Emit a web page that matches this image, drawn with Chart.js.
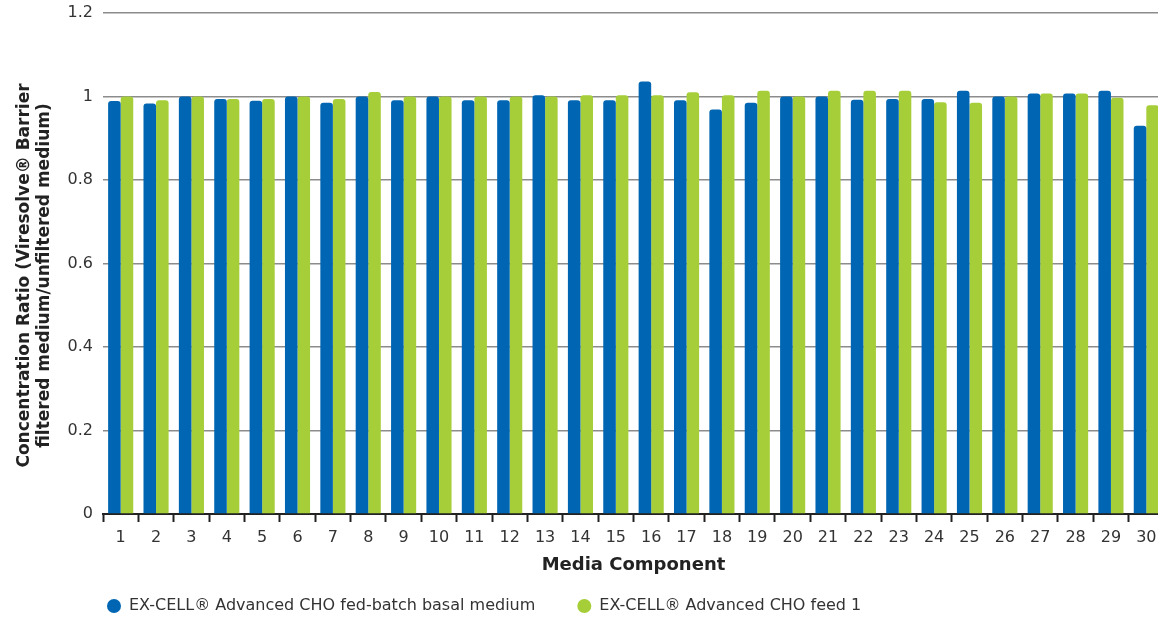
<!DOCTYPE html>
<html>
<head>
<meta charset="utf-8">
<script src="https://cdn.jsdelivr.net/npm/chart.js@4.4.0/dist/chart.umd.min.js"></script>
<style>
  html, body { margin: 0; padding: 0; background: #fff; overflow: hidden; }
  #wrap { width: 1166px; height: 618px; }
</style>
</head>
<body>
<div id="wrap"><canvas id="chart"></canvas></div>
<script>
// Media components 1..30
const components = ['1','2','3','4','5','6','7','8','9','10','11','12','13','14','15',
                    '16','17','18','19','20','21','22','23','24','25','26','27','28','29','30'];

// Concentration ratio
const basalMedium = [0.989, 0.983, 1.0, 0.994, 0.99, 1.0, 0.985, 1.0, 0.991, 1.0,
                     0.991, 0.991, 1.003, 0.991, 0.991, 1.036, 0.991, 0.969, 0.985, 1.0,
                     1.0, 0.992, 0.994, 0.994, 1.014, 1.0, 1.007, 1.007, 1.014, 0.93];
const feed1 = [1.0, 0.991, 1.0, 0.994, 0.994, 1.0, 0.994, 1.011, 1.0, 1.0,
               1.0, 1.0, 1.0, 1.003, 1.003, 1.003, 1.01, 1.003, 1.014, 1.0,
               1.014, 1.014, 1.014, 0.986, 0.985, 1.0, 1.007, 1.007, 0.997, 0.979];

const seriesNames = ['EX-CELL® Advanced CHO fed-batch basal medium', 'EX-CELL® Advanced CHO feed 1'];
const blue = '#0066b3';
const green = '#a6ce39';

Chart.defaults.font.family = 'DejaVu Sans';
Chart.defaults.color = '#333';

// move legend right and the y title a bit down, like the original
const nudge = {
    id: 'nudge',
    afterLayout(chart) {
        chart.legend.left = 65;
        chart.scales.y.top += 12;
        chart.scales.y.bottom += 12;
    }
};

const ctx = document.getElementById('chart').getContext('2d');
const chart = new Chart(ctx, {
    type: 'bar',
    data: {
        labels: components,
        datasets: [{
            label: seriesNames[0],
            data: basalMedium,
            backgroundColor: blue,
            borderRadius: 3,
            categoryPercentage: 0.71,
            barPercentage: 1.0
        }, {
            label: seriesNames[1],
            data: feed1,
            backgroundColor: green,
            borderRadius: 3,
            categoryPercentage: 0.71,
            barPercentage: 1.0
        }]
    },
    options: {
        responsive: true,
        maintainAspectRatio: false,
        animation: false,
        layout: { padding: { top: 13, right: 2, left: 0, bottom: -6 } },
        plugins: {
            tooltip: { enabled: false },
            legend: {
                position: 'bottom',
                align: 'start',
                labels: {
                    usePointStyle: true,
                    pointStyle: 'circle',
                    boxHeight: 10,
                    pointStyleWidth: 14,
                    padding: 42,
                    color: '#333',
                    font: { size: 16 }
                }
            }
        },
        scales: {
            x: {
                afterFit: scale => { scale.height = 42; },
                grid: {
                    drawOnChartArea: false,
                    drawTicks: true,
                    tickLength: 8,
                    tickColor: '#222',
                    tickWidth: 2
                },
                border: { color: '#222', width: 2 },
                ticks: { font: { size: 16 }, color: '#333', padding: 6 },
                title: {
                    display: true,
                    text: 'Media Component',
                    color: '#222',
                    font: { size: 18, weight: 'bold' },
                    padding: { top: 0, bottom: -20 }
                }
            },
            y: {
                min: 0,
                max: 1.2,
                afterFit: scale => {
                    scale.width = 103;
                    scale.paddingTop = 0;
                },
                ticks: {
                    stepSize: 0.2,
                    font: { size: 16 },
                    color: '#333',
                    padding: 10,
                    callback: value => String(+value.toFixed(1))
                },
                grid: { color: '#8c8c8c', lineWidth: 1.5, drawTicks: false },
                border: { display: false },
                title: {
                    display: true,
                    text: ['Concentration Ratio (Viresolve® Barrier', 'filtered medium/unfiltered medium)'],
                    color: '#222',
                    font: { size: 17, weight: 'bold', lineHeight: 1.15 },
                    padding: { top: 15, bottom: 0 }
                }
            }
        }
    },
    plugins: [nudge]
});
</script>
</body>
</html>
